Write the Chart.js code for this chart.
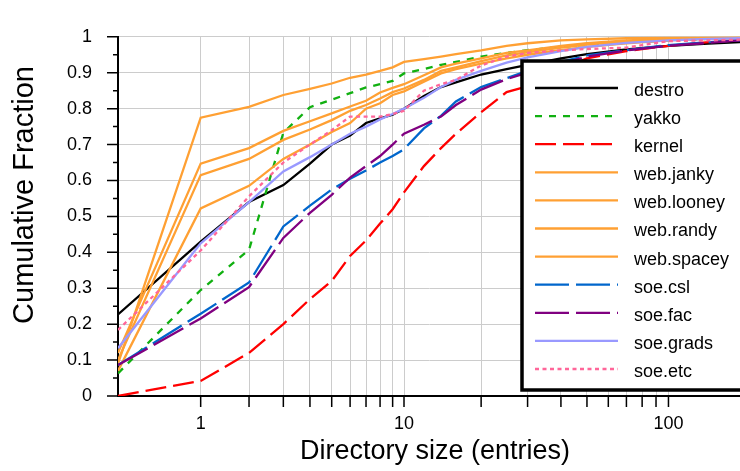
<!DOCTYPE html>
<html>
<head>
<meta charset="utf-8">
<script src="https://cdn.jsdelivr.net/npm/chart.js@4.4.1/dist/chart.umd.min.js"></script>
<style>
  html, body { margin: 0; padding: 0; background: #fff; }
  canvas { display: block; }
</style>
</head>
<body>
<canvas id="chart" width="740" height="471"></canvas>
<script>
// Directory sizes (entries) shared by every series
const sizes = [0, 1, 2, 3, 4, 5, 6, 7, 8, 9, 10, 12, 14, 16, 20, 25, 30, 40, 50, 70, 100, 140, 183];

// Cumulative fraction per file system
const destro    = [0.227, 0.43, 0.54, 0.587, 0.647, 0.70, 0.725, 0.76, 0.773, 0.783, 0.80, 0.835, 0.86, 0.873, 0.895, 0.91, 0.922, 0.94, 0.952, 0.965, 0.975, 0.981, 0.985];
const yakko     = [0.063, 0.295, 0.407, 0.733, 0.804, 0.825, 0.843, 0.859, 0.868, 0.877, 0.898, 0.91, 0.922, 0.93, 0.945, 0.955, 0.963, 0.972, 0.978, 0.985, 0.99, 0.994, 0.996];
const kernel    = [0, 0.042, 0.12, 0.20, 0.27, 0.32, 0.39, 0.433, 0.48, 0.52, 0.567, 0.64, 0.69, 0.73, 0.79, 0.846, 0.862, 0.91, 0.94, 0.96, 0.975, 0.985, 0.99];
const webJanky  = [0.09, 0.775, 0.805, 0.838, 0.855, 0.87, 0.886, 0.895, 0.905, 0.915, 0.93, 0.938, 0.945, 0.952, 0.962, 0.975, 0.982, 0.99, 0.993, 0.996, 0.998, 0.999, 1.0];
const webLooney = [0.12, 0.647, 0.69, 0.738, 0.765, 0.787, 0.806, 0.822, 0.845, 0.858, 0.868, 0.893, 0.915, 0.925, 0.94, 0.955, 0.962, 0.975, 0.982, 0.99, 0.994, 0.997, 0.998];
const webRandy  = [0.10, 0.615, 0.66, 0.713, 0.742, 0.768, 0.794, 0.81, 0.828, 0.846, 0.856, 0.88, 0.905, 0.915, 0.932, 0.948, 0.957, 0.97, 0.978, 0.987, 0.992, 0.995, 0.997];
const webSpacey = [0.07, 0.522, 0.585, 0.66, 0.70, 0.735, 0.76, 0.80, 0.815, 0.838, 0.848, 0.875, 0.898, 0.91, 0.925, 0.94, 0.95, 0.963, 0.972, 0.982, 0.99, 0.994, 0.996];
const soeCsl    = [0.086, 0.229, 0.316, 0.472, 0.53, 0.575, 0.605, 0.628, 0.65, 0.668, 0.687, 0.745, 0.78, 0.82, 0.86, 0.885, 0.905, 0.93, 0.948, 0.963, 0.977, 0.985, 0.99];
const soeFac    = [0.086, 0.216, 0.303, 0.44, 0.51, 0.56, 0.608, 0.64, 0.668, 0.70, 0.73, 0.755, 0.778, 0.81, 0.853, 0.882, 0.9, 0.925, 0.945, 0.962, 0.975, 0.983, 0.99];
const soeGrads  = [0.133, 0.425, 0.54, 0.625, 0.665, 0.70, 0.73, 0.75, 0.77, 0.785, 0.80, 0.83, 0.86, 0.88, 0.905, 0.928, 0.943, 0.96, 0.972, 0.983, 0.99, 0.994, 0.996];
const soeEtc    = [0.184, 0.405, 0.556, 0.65, 0.70, 0.74, 0.778, 0.778, 0.778, 0.785, 0.794, 0.85, 0.868, 0.88, 0.92, 0.945, 0.955, 0.962, 0.966, 0.97, 0.988, 0.99, 0.992];

// Axis ticks
const xTickValues = [1, 2, 3, 4, 5, 6, 7, 8, 9, 10, 20, 30, 40, 50, 60, 70, 80, 90, 100];
const xTickLabels = [1, 10, 100];
const xMax = 183;

// the x axis is log(size + 1), so an empty directory sits on the left edge
const toAxis = v => Math.log10(v + 1);

const FONT = '"Liberation Sans", Arial, sans-serif';
Chart.defaults.font.family = FONT;
Chart.defaults.color = '#000';

function series(label, values, color, dash) {
  return {
    label: label,
    data: values.map((y, i) => ({ x: toAxis(sizes[i]), y: y })),
    borderColor: color,
    borderWidth: 2.3,
    borderDash: dash,
    pointRadius: 0,
    tension: 0,
    fill: false
  };
}

const datasets = [
  series('destro', destro, '#000000', []),
  series('yakko', yakko, '#11b011', [7, 7]),
  series('kernel', kernel, '#ff0000', [21, 7]),
  series('web.janky', webJanky, '#ffa033', []),
  series('web.looney', webLooney, '#ffa033', []),
  series('web.randy', webRandy, '#ffa033', []),
  series('web.spacey', webSpacey, '#ffa033', []),
  series('soe.csl', soeCsl, '#0066cc', [34, 7]),
  series('soe.fac', soeFac, '#800080', [34, 7]),
  series('soe.grads', soeGrads, '#9999ff', []),
  series('soe.etc', soeEtc, '#ff6699', [4, 3.5])
];
// later series drawn on top
datasets.forEach((d, i) => { d.order = datasets.length - i; });

// Tick marks (outward, minor ones on y at the half steps) and axis titles
const axisDecor = {
  id: 'axisDecor',
  afterDraw(chart) {
    const ctx = chart.ctx;
    const xs = chart.scales.x, ys = chart.scales.y;
    const area = chart.chartArea;
    ctx.save();
    ctx.strokeStyle = '#000';
    ctx.lineWidth = 1.5;
    ctx.beginPath();
    xTickValues.forEach(v => {
      const px = xs.getPixelForValue(toAxis(v));
      ctx.moveTo(px, area.bottom);
      ctx.lineTo(px, area.bottom + 11);
    });
    for (let k = 0; k <= 20; k++) {
      const py = ys.getPixelForValue(k * 0.05);
      ctx.moveTo(area.left, py);
      ctx.lineTo(area.left - (k % 2 === 0 ? 11 : 5), py);
    }
    ctx.stroke();

    ctx.fillStyle = '#000';
    ctx.textAlign = 'center';
    ctx.textBaseline = 'middle';
    ctx.font = '27px ' + FONT;
    ctx.fillText('Directory size (entries)', 435, 452);
    ctx.translate(25, 195);
    ctx.rotate(-Math.PI / 2);
    ctx.font = '29px ' + FONT;
    ctx.fillText('Cumulative Fraction', 0, 0);
    ctx.restore();
  }
};

// Boxed legend inside the plot
const boxLegend = {
  id: 'boxLegend',
  afterDraw(chart) {
    const ctx = chart.ctx;
    const left = 522, top = 61, bottom = 390;
    ctx.save();
    ctx.fillStyle = '#fff';
    ctx.fillRect(left, top, 240, bottom - top);
    ctx.strokeStyle = '#000';
    ctx.lineWidth = 3.5;
    ctx.strokeRect(left, top, 240, bottom - top);
    ctx.font = '18px ' + FONT;
    ctx.textBaseline = 'middle';
    chart.data.datasets.forEach((ds, i) => {
      const y = 88 + i * 28.1;
      ctx.strokeStyle = ds.borderColor;
      ctx.lineWidth = ds.borderWidth;
      ctx.setLineDash(ds.borderDash);
      ctx.beginPath();
      ctx.moveTo(535, y);
      ctx.lineTo(618, y);
      ctx.stroke();
      ctx.setLineDash([]);
      ctx.fillStyle = '#000';
      ctx.fillText(ds.label, 634, y + 3);
    });
    ctx.restore();
  }
};

const ctx = document.getElementById('chart').getContext('2d');
new Chart(ctx, {
  type: 'line',
  data: { datasets: datasets },
  options: {
    responsive: false,
    animation: false,
    devicePixelRatio: 1,
    layout: { padding: { top: 13, right: 0, bottom: 0, left: 0 } },
    plugins: { legend: { display: false }, tooltip: { enabled: false } },
    scales: {
      x: {
        type: 'linear',
        min: 0,
        max: toAxis(xMax),
        afterBuildTicks: s => { s.ticks = xTickValues.map(v => ({ value: toAxis(v) })); },
        afterFit: s => { s.height = 75; },
        grid: { color: '#cccccc', lineWidth: 1, drawTicks: false },
        border: { display: true, color: '#000', width: 2 },
        ticks: {
          autoSkip: false,
          maxRotation: 0,
          padding: 17,
          font: { size: 18 },
          color: '#000',
          callback: (val, i) => xTickLabels.includes(xTickValues[i]) ? String(xTickValues[i]) : ''
        }
      },
      y: {
        min: 0,
        max: 1,
        afterFit: s => { s.width = 118; },
        grid: { color: '#cccccc', lineWidth: 1, drawTicks: false },
        border: { display: true, color: '#000', width: 2 },
        ticks: {
          stepSize: 0.1,
          padding: 26,
          font: { size: 18 },
          color: '#000',
          callback: v => String(+v.toFixed(1))
        }
      }
    }
  },
  plugins: [axisDecor, boxLegend]
});
</script>
</body>
</html>
